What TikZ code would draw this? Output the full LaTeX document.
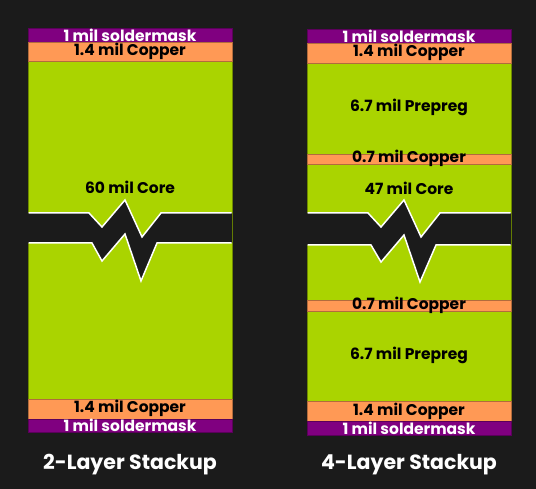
\documentclass[tikz,border=0pt]{standalone}
\usepackage{fontspec}
\setmainfont{Poppins}
\definecolor{bg}{HTML}{1B1B1B}
\definecolor{fr}{HTML}{AAD400}
\definecolor{cu}{HTML}{FF9955}
\definecolor{sm}{HTML}{800080}
\tikzset{
  layer/.style={draw=black!35!fr, line width=0.5pt},
  smlayer/.style={layer, fill=sm, draw=sm!70!black},
  culayer/.style={layer, fill=cu, draw=cu!70!black},
  frlayer/.style={layer, fill=fr},
  lbl/.style={font=\bfseries\fontsize{15.5}{16}\selectfont, inner sep=0pt, text=black},
  wlbl/.style={lbl, text=white},
  ttl/.style={font=\bfseries\fontsize{20.5}{24}\selectfont, inner sep=0pt, text=white},
  brk/.style={fill=bg},
  brkline/.style={draw=white, line width=1.5pt, line join=miter}
}
\begin{document}
\begin{tikzpicture}[x=1pt,y=-1pt]
\fill[bg] (0,0) rectangle (536,489);
\useasboundingbox (0,0) rectangle (536,489);
% ---------- left stack ----------
\path[frlayer] (28,61) rectangle (232,399);
\path[smlayer] (28,28.5) rectangle (232,42);
\path[culayer] (28,42) rectangle (232,61);
\path[culayer] (28,399) rectangle (232,419);
\path[smlayer] (28,419) rectangle (232,432);
% break
\fill[brk] (28,213) -- (89,213) -- (102,227) -- (125,200) -- (142,237) -- (161,213) -- (232,213)
  -- (232,243) -- (157,243) -- (141,281) -- (125,234) -- (102,261) -- (92,243) -- (28,243) -- cycle;
\draw[brkline] (28.5,213) -- (89,213) -- (102,227) -- (125,200) -- (142,237) -- (161,213) -- (231.5,213);
\draw[brkline] (28.5,243) -- (92,243) -- (102,261) -- (125,234) -- (141,281) -- (157,243) -- (231.5,243);
\node[wlbl] (l1) at (130,35.5) {1 mil soldermask};
\node[lbl] (l2) at (130,51.5) {1.4 mil Copper};
\node[lbl] (l3) at (130,187) {60 mil Core};
\node[lbl] (l4) at (130,408.5) {1.4 mil Copper};
\node[wlbl] (l5) at (130,425.5) {1 mil soldermask};
\node[ttl] (t1) at (130,465) {2-Layer Stackup};
% ---------- right stack ----------
\path[frlayer] (307,63) rectangle (511,154);
\path[frlayer] (307,164) rectangle (511,300);
\path[frlayer] (307,311) rectangle (511,401.5);
\path[smlayer] (307,29) rectangle (511,43);
\path[culayer] (307,43) rectangle (511,63);
\path[culayer] (307,154) rectangle (511,164);
\path[culayer] (307,300) rectangle (511,311);
\path[culayer] (307,401.5) rectangle (511,421);
\path[smlayer] (307,421) rectangle (511,435);
% break
\begin{scope}[shift={(279,0)}]
\fill[brk] (28,213) -- (89,213) -- (102,227) -- (125,200) -- (142,237) -- (161,213) -- (232,213)
  -- (232,245) -- (157,245) -- (141,282) -- (125,235) -- (102,262) -- (92,245) -- (28,245) -- cycle;
\draw[brkline] (28.5,213) -- (89,213) -- (102,227) -- (125,200) -- (142,237) -- (161,213) -- (231.5,213);
\draw[brkline] (28.5,245) -- (92,245) -- (102,262) -- (125,235) -- (141,282) -- (157,245) -- (231.5,245);
\end{scope}
\node[wlbl] (r1) at (409,36) {1 mil soldermask};
\node[lbl] (r2) at (409,52.5) {1.4 mil Copper};
\node[lbl] (r3) at (409,107) {6.7 mil Prepreg};
\node[lbl] (r4) at (409,158.5) {0.7 mil Copper};
\node[lbl] (r5) at (409,188) {47 mil Core};
\node[lbl] (r6) at (409,305) {0.7 mil Copper};
\node[lbl] (r7) at (409,355) {6.7 mil Prepreg};
\node[lbl] (r8) at (409,411) {1.4 mil Copper};
\node[wlbl] (r9) at (409,428) {1 mil soldermask};
\node[ttl] (t2) at (409,465) {4-Layer Stackup};
\end{tikzpicture}
\end{document}
